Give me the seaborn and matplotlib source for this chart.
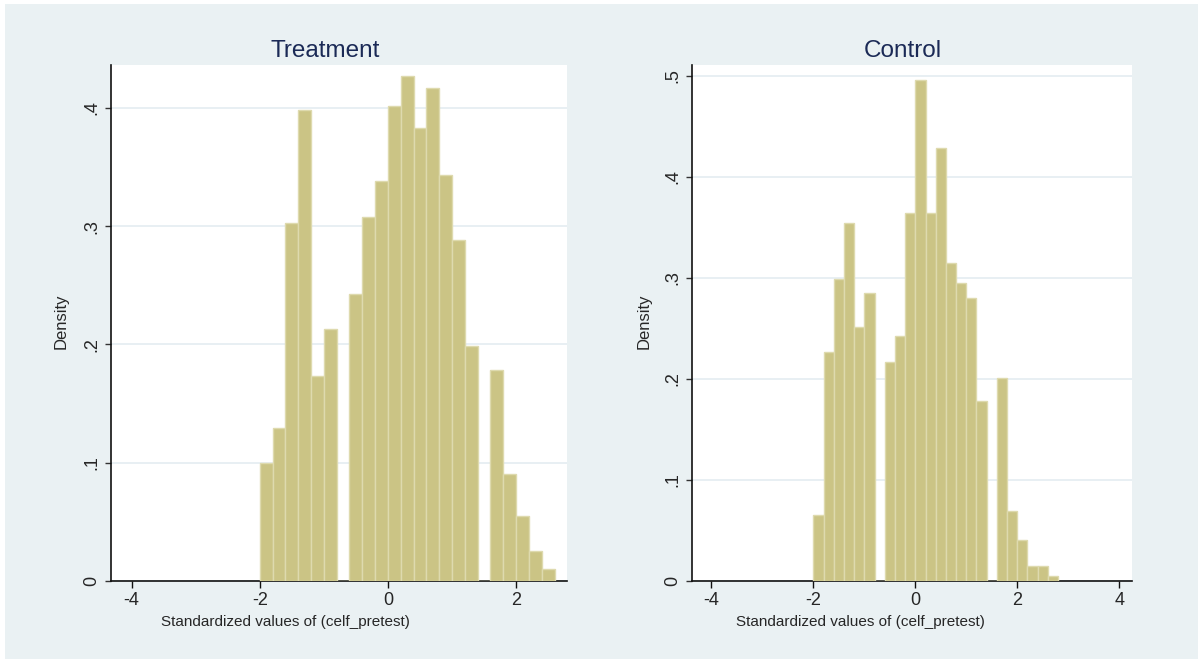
import numpy as np
import pandas as pd
import matplotlib
matplotlib.use("Agg")
import matplotlib.pyplot as plt
import seaborn as sns

# ---- data ----
bin_width = 0.2
treat_start = -2.0
treat_density = [0.100, 0.129, 0.303, 0.398, 0.173, 0.213, 0.0,
                 0.243, 0.308, 0.338, 0.402, 0.427, 0.383, 0.417, 0.343, 0.288, 0.199,
                 0.0, 0.178, 0.090, 0.055, 0.025, 0.010]
ctrl_start = -2.0
ctrl_density = [0.065, 0.226, 0.299, 0.354, 0.251, 0.285, 0.0,
                0.217, 0.242, 0.364, 0.496, 0.364, 0.428, 0.315, 0.295, 0.280, 0.178,
                0.0, 0.201, 0.069, 0.040, 0.015, 0.015, 0.005]
panel_titles = ["Treatment", "Control"]
treat_xticks = [-4, -2, 0, 2]
ctrl_xticks = [-4, -2, 0, 2, 4]
treat_yticks = [0, 0.1, 0.2, 0.3, 0.4]
ctrl_yticks = [0, 0.1, 0.2, 0.3, 0.4, 0.5]
xlabel = "Standardized values of (celf_pretest)"
ylabel = "Density"

sns.set_style("white")
plt.rcParams["font.family"] = ["Liberation Sans", "DejaVu Sans"]

BG = "#EAF1F3"
BAR = "#CBC485"
EDGE = "#DEDAAE"
NAVY = "#1B2A56"
GRID = "#E4ECF1"

fig = plt.figure(figsize=(11.98, 6.59), dpi=100, facecolor="white")
# light background panel (white strip at top/left as in reference)
fig.patches.append(plt.Rectangle((5 / 1198, 0), 1 - 5 / 1198, 1 - 4 / 659,
                                 transform=fig.transFigure, facecolor=BG,
                                 edgecolor="none", zorder=-10))

ax1 = fig.add_axes([111 / 1198, 1 - 580.7 / 659, 455.7 / 1198, 515.7 / 659])
ax2 = fig.add_axes([692.3 / 1198, 1 - 580.7 / 659, 439.4 / 1198, 515.7 / 659])


def fmt(v):
    if v == 0:
        return "0"
    return ("%.1f" % v).lstrip("0")


def draw(ax, start, dens, title, xticks, yticks, xlim, ylim, title_x, ylab_x):
    n = len(dens)
    centers = start + bin_width * (np.arange(n) + 0.5)
    df = pd.DataFrame({"x": centers, "w": dens})
    sns.histplot(data=df, x="x", weights="w", binwidth=bin_width,
                 binrange=(start, start + bin_width * n), stat="count",
                 color=BAR, edgecolor=EDGE, linewidth=1.0, alpha=1.0, ax=ax, zorder=3)
    ax.set_facecolor("white")
    ax.set_xlim(*xlim)
    ax.set_ylim(*ylim)
    ax.set_xticks(xticks)
    ax.set_xticklabels([str(t) for t in xticks], fontsize=13)
    ax.set_yticks(yticks)
    ax.set_yticklabels([fmt(t) for t in yticks], fontsize=13, rotation=90, va="center")
    ax.yaxis.grid(True, color=GRID, linewidth=1.2, zorder=0)
    ax.xaxis.grid(False)
    ax.set_axisbelow(True)
    for s in ["top", "right"]:
        ax.spines[s].set_visible(False)
    for s in ["left", "bottom"]:
        ax.spines[s].set_visible(True)
        ax.spines[s].set_color("#111111")
        ax.spines[s].set_linewidth(1.2)
    ax.tick_params(axis="x", direction="out", length=5, width=1, color="#111111",
                   pad=3, bottom=True)
    ax.tick_params(axis="y", direction="out", length=4, width=1, color="#333333",
                   pad=4, left=True)
    ax.set_xlabel(xlabel, fontsize=11)
    ax.set_ylabel(ylabel, fontsize=12)
    ax.xaxis.set_label_coords(0.383, -0.066)
    ax.yaxis.set_label_coords(ylab_x, 0.504)
    ax.text(title_x, 1.006, title, transform=ax.transAxes, ha="center", va="bottom",
            fontsize=17.5, color=NAVY)


draw(ax1, treat_start, treat_density, panel_titles[0], treat_xticks, treat_yticks,
     (-4.32, 2.79), (0, 0.4364), 0.471, -0.094)
draw(ax2, ctrl_start, ctrl_density, panel_titles[1], ctrl_xticks, ctrl_yticks,
     (-4.375, 4.245), (0, 0.5106), 0.479, -0.092)

fig.savefig("out.png", dpi=100, facecolor=fig.get_facecolor())
